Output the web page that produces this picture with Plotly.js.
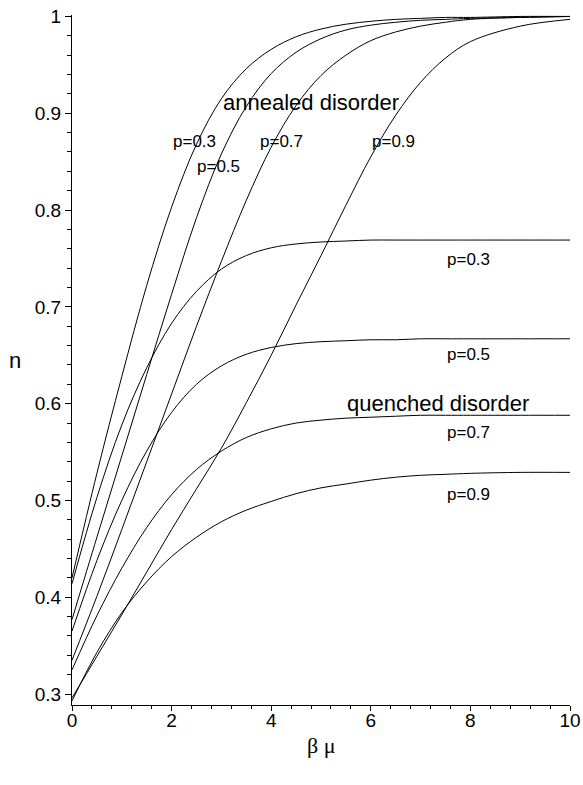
<!DOCTYPE html>
<html>
<head>
<meta charset="utf-8">
<script src="https://cdn.plot.ly/plotly-3.0.1.min.js"></script>
<style>html,body{margin:0;padding:0;background:#fff;}#chart{width:583px;height:785px;}</style>
</head>
<body>
<div id="chart"></div>
<script>
// beta*mu sample positions
const betaMu = [0, 0.5, 1, 1.5, 2, 2.5, 3, 3.5, 4, 4.5, 5, 5.5, 6, 6.5, 7, 7.5, 8, 9, 10];

// annealed disorder
const annealed_p03 = [0.420, 0.528, 0.628, 0.722, 0.803, 0.868, 0.915, 0.946, 0.966, 0.979, 0.987, 0.992, 0.995, 0.997, 0.998, 0.999, 0.999, 1.000, 1.000];
const annealed_p05 = [0.377, 0.462, 0.546, 0.630, 0.713, 0.792, 0.858, 0.907, 0.941, 0.963, 0.977, 0.986, 0.991, 0.994, 0.996, 0.997, 0.998, 0.999, 1.000];
const annealed_p07 = [0.335, 0.401, 0.470, 0.540, 0.610, 0.680, 0.747, 0.810, 0.865, 0.908, 0.939, 0.960, 0.975, 0.984, 0.990, 0.994, 0.997, 0.999, 1.000];
const annealed_p09 = [0.296, 0.339, 0.382, 0.426, 0.470, 0.512, 0.554, 0.601, 0.650, 0.702, 0.753, 0.805, 0.855, 0.898, 0.932, 0.957, 0.974, 0.990, 0.997];

// quenched disorder
const quenched_p03 = [0.414, 0.503, 0.578, 0.637, 0.683, 0.716, 0.739, 0.753, 0.761, 0.765, 0.767, 0.768, 0.769, 0.769, 0.769, 0.769, 0.769, 0.769, 0.769];
const quenched_p05 = [0.365, 0.438, 0.500, 0.551, 0.591, 0.620, 0.639, 0.651, 0.658, 0.662, 0.664, 0.665, 0.666, 0.666, 0.667, 0.667, 0.667, 0.667, 0.667];
const quenched_p07 = [0.325, 0.381, 0.430, 0.472, 0.506, 0.532, 0.551, 0.565, 0.574, 0.580, 0.583, 0.585, 0.586, 0.587, 0.588, 0.588, 0.588, 0.588, 0.588];
const quenched_p09 = [0.293, 0.343, 0.384, 0.416, 0.442, 0.462, 0.478, 0.490, 0.499, 0.507, 0.513, 0.517, 0.521, 0.524, 0.526, 0.527, 0.528, 0.529, 0.529];

const seriesList = [annealed_p03, annealed_p05, annealed_p07, annealed_p09,
                    quenched_p03, quenched_p05, quenched_p07, quenched_p09];

// text labels
const labelTexts = ["annealed disorder", "p=0.3", "p=0.5", "p=0.7", "p=0.9",
                    "quenched disorder", "p=0.3", "p=0.5", "p=0.7", "p=0.9"];
const labelX = [4.80, 2.45, 2.95, 4.20, 6.46, 7.34, 7.97, 7.97, 7.97, 7.97];
const labelY = [0.911, 0.871, 0.845, 0.871, 0.871, 0.600, 0.749, 0.651, 0.570, 0.506];
const labelSize = [22, 17, 17, 17, 17, 22, 17, 17, 17, 17];

const yTickVals = [0.3, 0.4, 0.5, 0.6, 0.7, 0.8, 0.9, 1];
const yTickText = ["0.3", "0.4", "0.5", "0.6", "0.7", "0.8", "0.9", "1"];
const xTickVals = [0, 2, 4, 6, 8, 10];
const xTickText = ["0", "2", "4", "6", "8", "10"];
const xTitle = "β μ";
const yTitle = "n";

const FONT = "Liberation Sans, Arial, sans-serif";

const traces = seriesList.map(ys => ({
  x: betaMu, y: ys, type: 'scatter', mode: 'lines',
  line: {color: '#000', width: 1, shape: 'spline', smoothing: 1},
  hoverinfo: 'skip', showlegend: false
}));

const annotations = labelTexts.map((t, i) => ({
  text: t, x: labelX[i], y: labelY[i], xref: 'x', yref: 'y',
  showarrow: false, font: {family: FONT, size: labelSize[i], color: '#000'},
  xanchor: 'center', yanchor: 'middle'
}));
annotations.push({
  text: yTitle, xref: 'paper', yref: 'paper', x: -0.115, y: 0.5,
  xanchor: 'center', yanchor: 'middle', showarrow: false,
  font: {family: FONT, size: 22, color: '#000'}
});
annotations.push({
  text: xTitle, xref: 'paper', yref: 'paper', x: 0.5, y: -0.058,
  xanchor: 'center', yanchor: 'middle', showarrow: false,
  font: {family: 'Liberation Serif, Times New Roman, serif', size: 22, color: '#000'}
});

const layout = {
  width: 583, height: 785,
  margin: {l: 72, r: 13, t: 15, b: 80},
  paper_bgcolor: '#fff', plot_bgcolor: '#fff',
  showlegend: false,
  font: {family: FONT, color: '#000'},
  xaxis: {
    range: [0, 10], showgrid: false, zeroline: false,
    showline: true, linecolor: '#000', linewidth: 1,
    ticks: 'outside', ticklen: 5, tickwidth: 1, tickcolor: '#000',
    tickvals: xTickVals, ticktext: xTickText,
    tickfont: {family: FONT, size: 19, color: '#000'},
    ticklabelstandoff: -7,
    minor: {dtick: 0.4, tick0: 0, ticks: 'outside', ticklen: 3, tickcolor: '#000', tickwidth: 1, showgrid: false},
    automargin: false
  },
  yaxis: {
    range: [0.2887, 1.0015], showgrid: false, zeroline: false,
    showline: true, linecolor: '#000', linewidth: 1,
    ticks: 'outside', ticklen: 6, tickwidth: 1, tickcolor: '#000',
    tickvals: yTickVals, ticktext: yTickText,
    tickfont: {family: FONT, size: 19, color: '#000'},
    minor: {dtick: 0.02, tick0: 0, ticks: 'outside', ticklen: 4, tickcolor: '#000', tickwidth: 1, showgrid: false},
    automargin: false
  },
  annotations: annotations
};

Plotly.newPlot('chart', traces, layout, {displayModeBar: false, staticPlot: true});
</script>
</body>
</html>
